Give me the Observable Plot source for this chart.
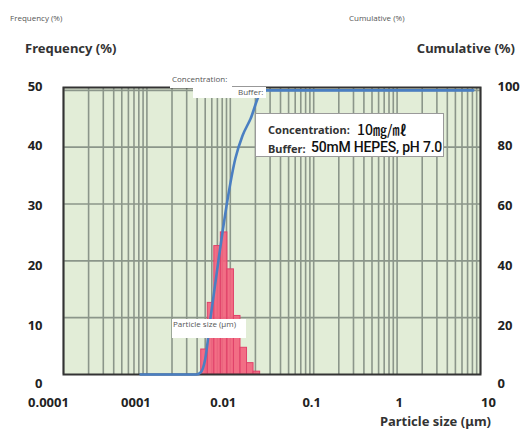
<!DOCTYPE html>
<html><head><meta charset="utf-8">
<script src="https://cdn.jsdelivr.net/npm/d3@7"></script>
<script src="https://cdn.jsdelivr.net/npm/@observablehq/plot@0.6"></script>
<style>
body{margin:0;background:#fff;}
#wrap{position:relative;width:524px;height:431px;font-family:"Noto Sans",sans-serif;overflow:hidden;}
#chart{position:absolute;left:0;top:0;}
.t{position:absolute;white-space:nowrap;}
.small{font-family:"Open Sans",sans-serif;font-size:8px;color:#555;line-height:10px;}
.big{font-size:13px;font-weight:700;color:#333;line-height:16px;}
.wb{position:absolute;background:#fff;}
</style></head><body>
<div id="wrap">
<div id="chart"></div>
<div class="t small" style="left:10px;top:13px">Frequency (%)</div>
<div class="t small" style="left:349px;top:13px">Cumulative (%)</div>
<div class="t big" style="left:25px;top:40px">Frequency (%)</div>
<div class="t big" style="right:9px;top:40px">Cumulative (%)</div>
<div class="t big" style="right:33px;top:413px">Particle size (μm)</div>
<div class="wb" style="left:255px;top:113px;width:189px;height:44px;border:1px solid #9a9a9a;box-sizing:border-box"></div>
<div class="t" style="left:268px;top:122px;font-size:11px;font-weight:700;color:#333">Concentration:</div>
<div class="t" style="left:357px;top:119px;font-family:'Noto Sans CJK JP';font-size:14px;font-weight:500;color:#111">10㎎/㎖</div>
<div class="t" style="left:268px;top:141px;font-size:11px;font-weight:700;color:#333">Buffer:</div>
<div class="t" style="left:311px;top:139px;font-family:Roboto;font-size:14px;font-weight:500;letter-spacing:-0.2px;color:#111">50mM HEPES, pH 7.0</div>
<div class="wb" style="left:170px;top:73px;width:62px;height:15px"></div>
<div class="t small" style="left:172px;top:74px">Concentration:</div>
<div class="wb" style="left:193px;top:87px;width:73px;height:11px"></div>
<div class="t small" style="left:238px;top:87px">Buffer:</div>
<div class="wb" style="left:172px;top:319px;width:74px;height:19px"></div>
<div class="t small" style="left:173px;top:319px">Particle size (μm)</div>
</div>
<script>
// Histogram bins (particle size, µm) and frequency (%)
const binLo = [0.00448, 0.00537, 0.00643, 0.0077, 0.00923, 0.01106, 0.01325, 0.01587, 0.0190];
const binHi = [0.00537, 0.00643, 0.0077, 0.00923, 0.01106, 0.01325, 0.01587, 0.0190, 0.0228];
const frequency = [4.4, 12.6, 22.6, 25.0, 18.5, 10.3, 4.7, 2.0, 0.5];
// Cumulative curve (particle size µm, cumulative %)
const cumSize = [0.00084, 0.0039, 0.0044, 0.0050, 0.0058, 0.0072, 0.0092, 0.0115, 0.0140, 0.0175, 0.0230, 0.0272, 8.2];
const cumulative = [0, 0, 0.7, 5.4, 20, 40, 61, 76, 84, 90, 99, 100, 100];
// Axis ticks and labels
const xTicks = [0.0001, 0.001, 0.01, 0.1, 1, 10];
const xTickLabels = ["0.0001", "0001", "0.01", "0.1", "1", "10"];
const yTicks = [0, 10, 20, 30, 40, 50];
const yRightLabels = ["0", "20", "40", "60", "80", "100"];

// label nudges (px) so the labels sit where the reference draws them
const xLabelDx = [-15, -11, -7, -2, 2, 8];
const yLabelDy = [9, 8, 4.7, 1.6, -1.6, -4];

const minorTicks = [];
for (let e = -4; e <= 0; e++) for (let m = 1; m <= 9; m++) minorTicks.push(m * Math.pow(10, e));
minorTicks.push(10);

const bins = frequency.map((f, i) => ({lo: binLo[i], hi: binHi[i], f}));
const cum = cumulative.map((c, i) => ({x: cumSize[i], c}));

const axisStyle = {tickSize: 0, fontSize: 13, fontWeight: "bold", color: "#222", label: null};

const plot = Plot.plot({
  width: 524, height: 431,
  marginLeft: 63, marginRight: 44, marginTop: 87, marginBottom: 57,
  x: {type: "log", domain: [1e-4, 10]},
  y: {domain: [0, 50.5]},
  style: {fontFamily: "Noto Sans", background: "transparent", overflow: "visible"},
  marks: [
    Plot.frame({fill: "#e2edd7"}),
    Plot.gridX({ticks: minorTicks, stroke: "#8b968a", strokeOpacity: 1, strokeWidth: 1.6}),
    Plot.gridY({ticks: yTicks.slice(1), stroke: "#8b968a", strokeOpacity: 1, strokeWidth: 1.6}),
    Plot.rectY(bins, {x1: "lo", x2: "hi", y: "f", fill: "#f45f7c", fillOpacity: 0.9, stroke: "#e0426a", strokeWidth: 1}),
    Plot.frame({stroke: "#333", strokeWidth: 2}),
    Plot.line(cum, {x: "x", y: d => d.c / 2, stroke: "#4a7fc2", strokeWidth: 2.6, curve: "monotone-x"}),
    ...yTicks.map((t, i) => Plot.axisY({...axisStyle, ticks: [t], tickPadding: 21, dy: yLabelDy[i]})),
    ...yTicks.map((t, i) => Plot.axisY({...axisStyle, anchor: "right", ticks: [t], tickFormat: () => yRightLabels[i], tickPadding: 17, dy: yLabelDy[i]})),
    ...xTicks.map((t, i) => Plot.axisX({...axisStyle, ticks: [t], tickFormat: () => xTickLabels[i], tickPadding: 23, dx: xLabelDx[i]}))
  ]
});
document.getElementById("chart").appendChild(plot);
</script>
</body></html>
